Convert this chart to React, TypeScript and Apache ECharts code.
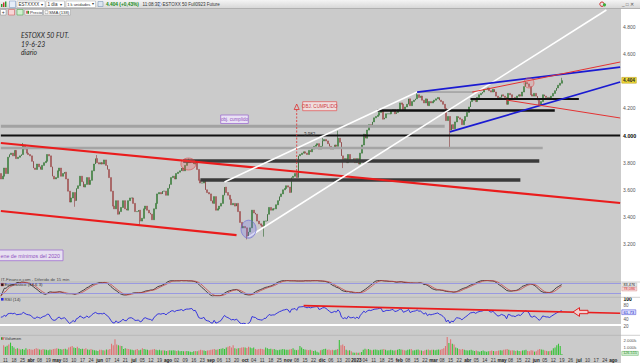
import React, { useEffect, useRef } from "react";
import * as echarts from "echarts";

// ---------------- DATA ----------------
const START_DATE = "2022-03-10";
const END_DATE = "2023-08-04";
const HOLIDAYS = ["2022-04-15", "2022-04-18", "2022-12-26", "2023-04-07", "2023-04-10", "2023-05-01"];
const MONTHS_ES = ["ene", "feb", "mar", "abr", "may", "jun", "jul", "ago", "sep", "oct", "nov", "dic"];
const TICK_START = 1;
const TICK_STEP = 5;

const FIRST_OPEN = 3720;
const closesMar22 = [3680, 3700, 3760, 3720, 3840, 3860, 3870, 3850, 3890, 3830, 3840, 3850, 3860, 3930, 3900, 3870];
const closesApr22 = [3860, 3850, 3810, 3760, 3750, 3790, 3770, 3750, 3780, 3800, 3810, 3860, 3850, 3770, 3700, 3680, 3690, 3740, 3760];
const closesMay22 = [3700, 3720, 3730, 3680, 3590, 3510, 3540, 3580, 3520, 3610, 3630, 3700, 3660, 3620, 3640, 3690, 3640, 3670, 3740, 3790, 3830, 3800];
const closesJun22 = [3790, 3800, 3790, 3820, 3780, 3750, 3690, 3590, 3480, 3460, 3520, 3420, 3440, 3470, 3520, 3460, 3450, 3520, 3540, 3540, 3500, 3440];
const closesJul22 = [3440, 3450, 3370, 3390, 3460, 3480, 3450, 3430, 3420, 3380, 3460, 3500, 3570, 3580, 3570, 3590, 3590, 3560, 3610, 3640, 3690];
const closesAug22 = [3700, 3680, 3720, 3730, 3740, 3760, 3740, 3780, 3800, 3800, 3810, 3820, 3790, 3800, 3750, 3670, 3650, 3650, 3670, 3600, 3580, 3570, 3520];
const closesSep22 = [3500, 3550, 3450, 3460, 3480, 3500, 3560, 3620, 3580, 3560, 3530, 3490, 3500, 3480, 3500, 3440, 3360, 3320, 3330, 3320, 3260, 3290];
const closesOct22 = [3320, 3450, 3430, 3420, 3370, 3350, 3340, 3330, 3370, 3370, 3420, 3470, 3450, 3460, 3460, 3490, 3520, 3550, 3570, 3600, 3610];
const closesNov22 = [3630, 3620, 3580, 3690, 3700, 3720, 3690, 3850, 3860, 3870, 3880, 3870, 3860, 3890, 3880, 3900, 3920, 3930, 3940, 3900, 3920, 3960];
const closesDec22 = [3970, 3960, 3940, 3920, 3900, 3910, 3930, 3920, 3980, 3950, 3850, 3810, 3830, 3800, 3860, 3820, 3820, 3830, 3800, 3830, 3790];
const closesJan23 = [3870, 3930, 4010, 3980, 4040, 4080, 4070, 4100, 4130, 4140, 4150, 4170, 4180, 4120, 4130, 4160, 4160, 4160, 4180, 4190, 4160, 4170];
const closesFeb23 = [4190, 4240, 4230, 4190, 4210, 4230, 4270, 4220, 4250, 4260, 4270, 4300, 4280, 4290, 4260, 4240, 4270, 4220, 4250, 4240];
const closesMar23 = [4250, 4260, 4270, 4280, 4260, 4250, 4230, 4200, 4110, 4140, 4040, 4080, 4050, 4100, 4140, 4130, 4120, 4080, 4110, 4140, 4170, 4210, 4250];
const closesApr23 = [4260, 4270, 4250, 4280, 4300, 4310, 4320, 4340, 4340, 4350, 4330, 4320, 4340, 4320, 4290, 4270, 4280, 4300];
const closesMay23 = [4290, 4280, 4230, 4310, 4300, 4280, 4280, 4270, 4290, 4300, 4290, 4320, 4360, 4390, 4380, 4360, 4300, 4290, 4310, 4290, 4260, 4220];
const closesJun23 = [4250, 4300, 4290, 4280, 4280, 4270, 4290, 4310, 4330, 4350, 4370, 4385, 4404];

const wickHighs: Record<number, number> = { 13: 3945, 56: 3856, 109: 3830, 187: 3982, 196: 4035, 242: 4320, 305: 4400, 326: 4425 };
const wickLows: Record<number, number> = { 43: 3475, 81: 3340, 143: 3235, 153: 3255, 199: 3760, 261: 3910 };

const volMar22 = [1300, 1100, 1250, 1400, 1650, 1200, 1000, 800, 900, 850, 750, 800, 700, 900, 750, 800];
const volApr22 = [750, 700, 800, 900, 850, 750, 700, 800, 750, 700, 650, 750, 700, 800, 850, 900, 850, 800, 750];
const volMay22 = [800, 850, 750, 1000, 1100, 1200, 1000, 950, 1100, 900, 800, 850, 800, 900, 750, 700, 800, 700, 650, 600, 550, 700];
const volJun22 = [700, 650, 600, 750, 700, 800, 1500, 1300, 2100, 1400, 1300, 1250, 1200, 800, 900, 850, 800, 750, 700, 650, 700, 800];
const volJul22 = [650, 700, 900, 800, 750, 700, 650, 700, 750, 800, 700, 650, 700, 600, 650, 600, 550, 600, 650, 600, 650];
const volAug22 = [600, 550, 600, 500, 550, 500, 500, 550, 500, 450, 400, 500, 550, 500, 600, 700, 650, 600, 550, 600, 650, 700, 750];
const volSep22 = [800, 700, 750, 800, 850, 900, 800, 1000, 1100, 1200, 1000, 1300, 900, 850, 900, 950, 1000, 1050, 1000, 950, 1100, 1000];
const volOct22 = [900, 1000, 800, 750, 800, 850, 800, 750, 1000, 900, 800, 850, 750, 800, 700, 650, 700, 750, 800, 750, 700];
const volNov22 = [700, 750, 800, 900, 700, 650, 700, 1200, 1000, 800, 750, 700, 650, 700, 600, 550, 600, 450, 350, 650, 700, 800];
const volDec22 = [850, 700, 750, 650, 700, 650, 700, 800, 2000, 1300, 1400, 1200, 700, 600, 650, 500, 350, 300, 350, 300, 350];
const volJan23 = [400, 700, 850, 750, 800, 700, 650, 700, 750, 700, 650, 700, 750, 800, 700, 600, 650, 700, 650, 600, 650, 700];
const volFeb23 = [800, 750, 700, 650, 600, 700, 750, 800, 600, 650, 700, 750, 650, 600, 550, 650, 700, 750, 650, 700];
const volMar23 = [700, 650, 700, 750, 700, 800, 900, 1200, 2400, 1600, 2100, 1500, 1400, 1000, 900, 800, 750, 800, 700, 650, 600, 650, 700];
const volApr23 = [600, 550, 600, 500, 450, 550, 600, 500, 450, 500, 550, 600, 550, 500, 550, 600, 650, 600];
const volMay23 = [700, 750, 800, 700, 600, 650, 600, 550, 600, 550, 500, 600, 650, 700, 550, 500, 650, 600, 450, 500, 700, 800];
const volJun23 = [750, 700, 600, 550, 500, 550, 600, 900, 1000, 1300, 1500, 1200, 127];

// trendlines [index, price]
const redChannelUpper = [[0, 3945], [360, 3503]];
const redChannelLower = [[0, 3444], [137, 3267]];
const whiteChannelUpper = [[130, 3658], [242, 4320]];
const whiteChannelLower = [[144, 3253], [352, 4924]];
const blueUpper = [[242, 4320], [360, 4504]];
const blueLower = [[261, 4026], [360, 4394]];
const redThinUpper = [[274, 4320], [360, 4541]];
const redThinLower = [[294, 4261], [360, 4129]];
const rsiTrend = [[176, 81], [360, 58.8]];
const RSI_WHITE_LEVEL = 25;
const STOCH_BANDS = [80, 20];

// horizontal levels [price, fromIndex, toIndex]
const levelGrayTop = [4068, 0, 258];
const level4000 = [4000, 0, 360];
const levelGrayMid = [3908, 0, 315];
const levelDark1 = [3812, 106, 313];
const levelDark2 = [3672, 116, 302];
const levelBlack1 = [4184, 219, 322];
const levelBlack2 = [4269, 273, 336];
const levelGrayThin = [4320, 242, 275];

// highlighted circles [index, price]
const circleAugTop = [109, 3790];
const circleSepLow = [144, 3310];
const circleMayTop = [307, 4387];

const LAST_PRICE_LABEL = "4.404";
const STOCH_K_LABEL = "83,476";
const STOCH_D_LABEL = "78,086";
const RSI_LABEL = "61,73";
const VOL_LABEL = "126.515";
const HIGH_LABEL = "3.982";

// ---------------- DERIVED ----------------
function buildDates(): string[] {
  const out: string[] = [];
  const hol = new Set(HOLIDAYS);
  const [sy, sm, sd] = START_DATE.split("-").map(Number);
  const [ey, em, ed] = END_DATE.split("-").map(Number);
  let t = Date.UTC(sy, sm - 1, sd);
  const end = Date.UTC(ey, em - 1, ed);
  while (t <= end) {
    const d = new Date(t);
    const wd = d.getUTCDay();
    const s = d.toISOString().slice(0, 10);
    if (wd !== 0 && wd !== 6 && !hol.has(s)) out.push(s);
    t += 86400000;
  }
  return out;
}

const dates = buildDates();
const closes = [
  ...closesMar22, ...closesApr22, ...closesMay22, ...closesJun22, ...closesJul22, ...closesAug22,
  ...closesSep22, ...closesOct22, ...closesNov22, ...closesDec22, ...closesJan23, ...closesFeb23,
  ...closesMar23, ...closesApr23, ...closesMay23, ...closesJun23,
];
const volumes = [
  ...volMar22, ...volApr22, ...volMay22, ...volJun22, ...volJul22, ...volAug22,
  ...volSep22, ...volOct22, ...volNov22, ...volDec22, ...volJan23, ...volFeb23,
  ...volMar23, ...volApr23, ...volMay23, ...volJun23,
];
const opens = closes.map((c, i) => (i === 0 ? FIRST_OPEN : closes[i - 1]));
const highs = closes.map((c, i) => Math.max(opens[i], c, wickHighs[i] ?? -Infinity));
const lows = closes.map((c, i) => Math.min(opens[i], c, wickLows[i] ?? Infinity));
const candleData = closes.map((c, i) => [opens[i], c, lows[i], highs[i]]);

// RSI (14, Wilder)
const RSI_N = 14;
const RSI_SEED = 30;
const rsiData = (() => {
  let ag = RSI_SEED, al = RSI_SEED;
  return closes.map((c, i) => {
    const ch = c - opens[i];
    ag = (ag * (RSI_N - 1) + Math.max(ch, 0)) / RSI_N;
    al = (al * (RSI_N - 1) + Math.max(-ch, 0)) / RSI_N;
    return +(100 - 100 / (1 + ag / al)).toFixed(2);
  });
})();

// Stochastic (slow, smoothed)
const STOCH_N = 14;
const STOCH_K_SMOOTH = 9;
const STOCH_D_SMOOTH = 4;
const sma = (arr: number[], n: number) =>
  arr.map((_, i) => {
    const s = Math.max(0, i - n + 1);
    let sum = 0;
    for (let k = s; k <= i; k++) sum += arr[k];
    return sum / (i - s + 1);
  });
const rawK = closes.map((c, i) => {
  const s = Math.max(0, i - STOCH_N + 1);
  let hh = -Infinity, ll = Infinity;
  for (let k = s; k <= i; k++) { hh = Math.max(hh, highs[k]); ll = Math.min(ll, lows[k]); }
  return hh === ll ? 50 : ((c - ll) / (hh - ll)) * 100;
});
const stochK = sma(rawK, STOCH_K_SMOOTH).map((v) => +v.toFixed(2));
const stochD = sma(stochK, STOCH_D_SMOOTH).map((v) => +v.toFixed(2));

const volumeData = volumes.map((v, i) => ({
  value: v,
  itemStyle: { color: closes[i] >= opens[i] ? "#36c236" : "#e07272" },
}));

const labelMap: Record<number, string> = {};
for (let t = TICK_START; t < dates.length; t += TICK_STEP) {
  const prev = dates[t - 1] ?? dates[t];
  const pm = +prev.slice(5, 7), py = +prev.slice(0, 4);
  let txt = dates[t].slice(8, 10);
  for (let k = t; k < Math.min(t + TICK_STEP, dates.length); k++) {
    const m = +dates[k].slice(5, 7), y = +dates[k].slice(0, 4);
    if (y !== py) { txt = `{b|${y}}`; break; }
    if (m !== pm) { txt = `{b|${MONTHS_ES[m - 1]}}`; break; }
  }
  labelMap[t] = txt;
}

// ---------------- CHART ----------------
const FONT = "'Liberation Sans', Arial, sans-serif";
const BG = "#cbcbcb";
const PLOT_W = 621;

function fmtThousands(v: number) {
  const th = Math.floor(v / 1000);
  const r = Math.round(v % 1000);
  return th > 0 ? `${th}.${String(r).padStart(3, "0")}` : String(r);
}

const txt = (x: number, y: number, text: string, o: any = {}) => ({
  type: "text", x, y, silent: true, z: 20,
  style: {
    text, fontSize: 5, fontFamily: FONT, fill: "#333",
    align: "left", verticalAlign: "middle", textAlign: "left", textVerticalAlign: "middle", ...o,
  },
});
const rect = (x: number, y: number, w: number, h: number, style: any, z = 15) => ({
  type: "rect", silent: true, z, shape: { x, y, width: w, height: h }, style,
});
const ln = (x1: number, y1: number, x2: number, y2: number, style: any, z = 15) => ({
  type: "line", silent: true, z, shape: { x1, y1, x2, y2 }, style,
});
const circ = (cx: number, cy: number, r: number, style: any, z = 15) => ({
  type: "circle", silent: true, z, shape: { cx, cy, r }, style,
});

function segSeries(name: string, data: number[][], color: string, width: number, z = 3, xi = 0) {
  return {
    name, type: "line", xAxisIndex: xi, yAxisIndex: xi, data, symbol: "none", silent: true,
    z, lineStyle: { color, width }, clip: false,
  };
}
function levelSeries(name: string, lv: number[], color: string, width: number) {
  return segSeries(name, [[lv[1], lv[0]], [lv[2], lv[0]]], color, width, 3);
}
function circleSeries(name: string, p: number[], size: any, fill: string, stroke: string) {
  return {
    name, type: "scatter", xAxisIndex: 0, yAxisIndex: 0, data: [p], symbol: "circle", symbolSize: size,
    silent: true, z: 5, itemStyle: { color: fill, borderColor: stroke, borderWidth: 0.8 },
  };
}

function buildOption() {
  const xAxisBase = {
    type: "category", data: dates, boundaryGap: true,
    axisLine: { show: false }, axisTick: { show: false }, splitLine: { show: false },
  };
  const graphic: any[] = [
    // toolbar
    rect(0, 0, 640, 8.5, { fill: { type: "linear", x: 0, y: 0, x2: 0, y2: 1, colorStops: [{ offset: 0, color: "#f4f4f4" }, { offset: 1, color: "#d6d6d6" }] } }, 1),
    ln(0, 8.5, 640, 8.5, { stroke: "#9a9a9a", lineWidth: 0.6 }, 2),
    rect(PLOT_W, 8.8, 640 - PLOT_W, 354.2, { fill: "#ffffff" }, -1),
    rect(1, 4, 1.4, 3, { fill: "#2a9a2a" }),
    rect(3, 2.5, 1.4, 4.5, { fill: "#d03030" }),
    rect(5, 1.5, 1.4, 5.5, { fill: "#2a9a2a" }),
    rect(9.5, 1, 6, 6.5, { fill: "#e6edf8", stroke: "#7090c0", lineWidth: 0.5 }),
    rect(17, 1, 28, 6.5, { fill: "#fff", stroke: "#a8a8a8", lineWidth: 0.5 }),
    txt(18.5, 4.4, "ESTXXXX", { fontSize: 4.5 }),
    txt(40.8, 4.4, "▾", { fontSize: 4 }),
    rect(46, 1, 18.5, 6.5, { fill: "#fff", stroke: "#a8a8a8", lineWidth: 0.5 }),
    txt(47.5, 4.4, "1 día", { fontSize: 4.5 }),
    txt(60.3, 4.4, "▾", { fontSize: 4 }),
    rect(66, 1, 29.5, 6.5, { fill: "#fff", stroke: "#a8a8a8", lineWidth: 0.5 }),
    txt(67.2, 4.4, "1 k unidades", { fontSize: 4.1 }),
    txt(92.2, 4.4, "▾", { fontSize: 3.8 }),
    rect(98, 1.5, 5, 5, { fill: "#dde6f0", stroke: "#6a8ab0", lineWidth: 0.5 }),
    txt(106, 4.4, "4.404 (+0,43%)", { fill: "#168a16", fontWeight: "bold", fontSize: 4.8 }),
    txt(142.5, 4.4, "11:08:33", { fontSize: 4.5 }),
    circ(159.5, 4.3, 1.8, { fill: "#fff", stroke: "#3a6ad0", lineWidth: 0.5 }),
    txt(162.5, 4.4, "ESTOXX 50 Full0923 Future", { fontSize: 4.5 }),
    circ(602, 4.2, 2.2, { fill: "none", stroke: "#d03030", lineWidth: 1 }),
    circ(604.5, 4.8, 1.6, { fill: "#3cb03c" }),
    txt(622, 4.2, "_ □ ✕", { fontSize: 4.6, fill: "#555" }),
    // second toolbar row
    rect(0.5, 9.5, 5.5, 5.5, { fill: "#fff", stroke: "#888", lineWidth: 0.5 }),
    txt(3.25, 12.3, "+", { fontSize: 5, align: "center", textAlign: "center" }),
    rect(8.5, 9.5, 6, 5.5, { fill: "#f7d6d6", stroke: "#d04848", lineWidth: 0.5 }),
    rect(17, 9.5, 6, 5.5, { fill: "#d0f0d0", stroke: "#3aa03a", lineWidth: 0.5 }),
    rect(25, 9.5, 17.5, 5.5, { fill: "#fff", stroke: "#999", lineWidth: 0.5 }),
    rect(26.3, 10.8, 1.4, 3, { fill: "#d03030" }),
    rect(27.7, 10.8, 1.4, 3, { fill: "#2a9a2a" }),
    txt(30, 12.3, "Precio", { fontSize: 4.3 }),
    rect(43.5, 9.5, 27, 5.5, { fill: "#fff", stroke: "#999", lineWidth: 0.5 }),
    rect(45, 10.7, 3, 3, { fill: "#fff", stroke: "#666", lineWidth: 0.4 }),
    txt(49, 12.3, "SMA (138)", { fontSize: 4.3 }),
    // title annotation
    txt(21, 34.5, "ESTOXX 50 FUT.", { fontSize: 6.8, fontStyle: "italic", fontFamily: "Lato, 'Open Sans', sans-serif", fill: "#2a2a2a" }),
    txt(21, 43.5, "19-6-23", { fontSize: 6.8, fontStyle: "italic", fontFamily: "Lato, 'Open Sans', sans-serif", fill: "#2a2a2a" }),
    txt(21, 52, "diario", { fontSize: 6.8, fontStyle: "italic", fontFamily: "Lato, 'Open Sans', sans-serif", fill: "#2a2a2a" }),
    // obj. cumplido
    rect(220.7, 115, 27.6, 8.5, { fill: "rgba(236,228,248,0.9)", stroke: "#a070d0", lineWidth: 0.8 }),
    txt(234.5, 119.3, "obj. cumplido", { fontSize: 4.6, fill: "#9050c0", align: "center", textAlign: "center" }),
    // OBJ. CUMPLIDO
    rect(302.7, 101.7, 34, 9, { fill: "rgba(246,226,226,0.85)", stroke: "#e06060", lineWidth: 0.8 }),
    txt(319.7, 106.3, "OBJ. CUMPLIDO", { fontSize: 4.6, fill: "#d04040", align: "center", textAlign: "center" }),
    ln(296.7, 109.5, 296.7, 176, { stroke: "#e03030", lineWidth: 0.8, lineDash: [2, 1.5] }),
    { type: "polygon", silent: true, z: 15, shape: { points: [[294.2, 109.5], [299.2, 109.5], [296.7, 104]] }, style: { fill: "none", stroke: "#e03030", lineWidth: 0.8 } },
    txt(304, 134, HIGH_LABEL, { fontSize: 4.5, fill: "#333" }),
    // mínimos del 2020
    rect(-1, 250, 64, 10.7, { fill: "rgba(236,228,248,0.85)", stroke: "#a070d0", lineWidth: 0.8 }),
    txt(0.5, 255.5, "ene de mínimos del 2020", { fontSize: 5.3, fill: "#9050c0" }),
    // panel legends and separators
    txt(1, 279.3, "IT-Finance.com - Diferido de 15 min", { fontSize: 4.3, fill: "#444" }),
    ln(0, 282, PLOT_W, 282, { stroke: "#b4b4b4", lineWidth: 0.8 }, 1),
    ln(0, 297.3, PLOT_W, 297.3, { stroke: "#b4b4b4", lineWidth: 0.8 }, 1),
    ln(0, 335.3, PLOT_W, 335.3, { stroke: "#b4b4b4", lineWidth: 0.8 }, 1),
    ln(PLOT_W, 282, 640, 282, { stroke: "#c4c4c4", lineWidth: 0.8 }),
    ln(PLOT_W, 297.3, 640, 297.3, { stroke: "#c4c4c4", lineWidth: 0.8 }),
    ln(PLOT_W, 335.3, 640, 335.3, { stroke: "#c4c4c4", lineWidth: 0.8 }),
    rect(1, 283.4, 2.6, 2.6, { fill: "#1a1a1a", stroke: "#d03030", lineWidth: 0.4 }),
    txt(4.5, 284.8, "Estocástico (14 6 3)", { fontSize: 4.3, fill: "#333" }),
    rect(1, 298, 2.6, 2.6, { fill: "#2a2ae0" }),
    txt(4.5, 299.4, "RSI (14)", { fontSize: 4.3, fill: "#333" }),
    rect(1, 337.2, 1.3, 2.6, { fill: "#2aa02a" }),
    rect(2.3, 337.2, 1.3, 2.6, { fill: "#d04040" }),
    txt(4.5, 338.6, "Volumen", { fontSize: 4.3, fill: "#333" }),
    // RSI arrow
    { type: "polygon", silent: true, z: 15, shape: { points: [[573, 312], [579.5, 307.6], [579.5, 310.3], [588, 310.3], [588, 313.7], [579.5, 313.7], [579.5, 316.4]] }, style: { fill: "#f2cfcf", stroke: "#e02020", lineWidth: 1 } },
    // right-side value tags
    rect(621.8, 77.4, 14.5, 5.8, { fill: "#f0dc3c", stroke: "#b09000", lineWidth: 0.5 }),
    txt(629, 80.4, LAST_PRICE_LABEL, { fontSize: 4.8, fill: "#222", fontWeight: "bold", align: "center", textAlign: "center" }),
    rect(621.8, 283.1, 15, 3.8, { fill: "#eeeeee", stroke: "#999", lineWidth: 0.4 }),
    txt(629.3, 285, STOCH_K_LABEL, { fontSize: 3.8, fill: "#222", align: "center", textAlign: "center" }),
    rect(621.8, 287.2, 15, 3.8, { fill: "#f6dada", stroke: "#d08080", lineWidth: 0.4 }),
    txt(629.3, 289.1, STOCH_D_LABEL, { fontSize: 3.8, fill: "#d03030", align: "center", textAlign: "center" }),
    rect(621.8, 309.8, 14, 4.8, { fill: "#dde0ff", stroke: "#4040d0", lineWidth: 0.5 }),
    txt(628.8, 312.2, RSI_LABEL, { fontSize: 4.3, fill: "#2020c0", align: "center", textAlign: "center" }),
    rect(621.8, 351.4, 16.5, 4, { fill: "#d4f0d4", stroke: "#40a040", lineWidth: 0.4 }),
    txt(630, 353.4, VOL_LABEL, { fontSize: 3.8, fill: "#1f8a1f", align: "center", textAlign: "center" }),
  ];

  return {
    animation: false,
    backgroundColor: BG,
    textStyle: { fontFamily: FONT },
    grid: [
      { left: 0, width: PLOT_W, top: 8, height: 290.46 },
      { left: 0, width: PLOT_W, top: 280.4, height: 15.8 },
      { left: 0, width: PLOT_W, top: 299, height: 34.75 },
      { left: 0, width: PLOT_W, top: 335.5, height: 19.5 },
    ],
    xAxis: [
      { ...xAxisBase, gridIndex: 0, axisLabel: { show: false } },
      { ...xAxisBase, gridIndex: 1, axisLabel: { show: false } },
      { ...xAxisBase, gridIndex: 2, axisLabel: { show: false } },
      {
        ...xAxisBase, gridIndex: 3,
        axisLabel: {
          show: true, fontSize: 4.6, color: "#333", margin: 2.5, fontFamily: FONT,
          interval: (i: number) => labelMap[i] !== undefined,
          formatter: (_v: string, i: number) => labelMap[i] ?? "",
          rich: { b: { fontWeight: "bold", fontSize: 4.6, color: "#222", fontFamily: FONT } },
        },
      },
    ],
    yAxis: [
      {
        type: "value", gridIndex: 0, position: "right", min: 2800, max: 4938.9, interval: 200, scale: true,
        axisLine: { show: false }, axisTick: { show: false }, splitLine: { show: false },
        axisLabel: {
          fontSize: 5, color: "#555", margin: 2, fontFamily: FONT,
          formatter: (v: number) => {
            if (v < 3200 || v > 4800 || v === 4400 || v % 200 !== 0) return "";
            return v === 4000 ? `{b|${fmtThousands(v)}}` : fmtThousands(v);
          },
          rich: { b: { fontWeight: "bold", color: "#000", fontSize: 5.3, fontFamily: FONT } },
        },
      },
      {
        type: "value", gridIndex: 1, position: "right", min: 0, max: 100,
        axisLine: { show: false }, axisTick: { show: false }, splitLine: { show: false }, axisLabel: { show: false },
      },
      {
        type: "value", gridIndex: 2, position: "right", min: 0, max: 100, interval: 20,
        axisLine: { show: false }, axisTick: { show: false }, splitLine: { show: false },
        axisLabel: {
          fontSize: 4.5, color: "#555", margin: 2.5, fontFamily: FONT,
          formatter: (v: number) => (v === 100 ? "{b|100}" : v === 0 || v === 60 ? "" : String(v)),
          rich: { b: { fontWeight: "bold", color: "#000", fontSize: 5, fontFamily: FONT } },
        },
      },
      {
        type: "value", gridIndex: 3, position: "right", min: 0, max: 2600, interval: 1000,
        axisLine: { show: false }, axisTick: { show: false }, splitLine: { show: false },
        axisLabel: {
          fontSize: 4.3, color: "#555", margin: 2.5, fontFamily: FONT,
          formatter: (v: number) => (v === 1000 || v === 2000 ? `${fmtThousands(v)}k` : ""),
        },
      },
    ],
    series: [
      {
        name: "Precio", type: "candlestick", xAxisIndex: 0, yAxisIndex: 0, data: candleData, z: 2,
        barWidth: "78%",
        itemStyle: { color: "#5ec35e", color0: "#e58a8a", borderColor: "#2f662f", borderColor0: "#8a3c3c", borderWidth: 0.6 },
      },
      levelSeries("lvGrayTop", levelGrayTop, "#a2a2a2", 3),
      levelSeries("lvGrayMid", levelGrayMid, "#a4a4a4", 2.6),
      levelSeries("lvDark1", levelDark1, "#3a3a3a", 3.6),
      levelSeries("lvDark2", levelDark2, "#3a3a3a", 3.6),
      levelSeries("lvGrayThin", levelGrayThin, "#8a8a8a", 1),
      levelSeries("lv4000", level4000, "#111111", 2),
      levelSeries("lvBlack1", levelBlack1, "#111111", 2.4),
      levelSeries("lvBlack2", levelBlack2, "#111111", 2),
      segSeries("redUp", redChannelUpper, "#ea1c1c", 2.2, 4),
      segSeries("redLow", redChannelLower, "#ea1c1c", 2.2, 4),
      segSeries("whiteUp", whiteChannelUpper, "#ffffff", 1.6, 4),
      segSeries("whiteLow", whiteChannelLower, "#ffffff", 1.6, 4),
      segSeries("blueUp", blueUpper, "#1a1ad2", 1.8, 4),
      segSeries("blueLow", blueLower, "#1a1ad2", 1.8, 4),
      segSeries("redThinUp", redThinUpper, "#e43232", 1, 4),
      segSeries("redThinLow", redThinLower, "#e43232", 1, 4),
      circleSeries("cAug", circleAugTop, [15, 12], "rgba(236,90,90,0.35)", "rgba(220,50,50,0.8)"),
      circleSeries("cSep", circleSepLow, [15, 18], "rgba(120,120,235,0.35)", "#6a6ad8"),
      circleSeries("cMay", circleMayTop, 10, "rgba(240,120,120,0.3)", "#e05050"),
      {
        name: "StochK", type: "line", xAxisIndex: 1, yAxisIndex: 1, data: stochK, symbol: "none", silent: true,
        lineStyle: { color: "#2a1a1a", width: 0.8 },
        markLine: {
          silent: true, symbol: "none", label: { show: false },
          lineStyle: { color: "#8c8ce6", width: 0.8, type: "solid" },
          data: STOCH_BANDS.map((b) => ({ yAxis: b })),
        },
      },
      {
        name: "StochD", type: "line", xAxisIndex: 1, yAxisIndex: 1, data: stochD, symbol: "none", silent: true,
        lineStyle: { color: "#c84848", width: 0.8 },
      },
      {
        name: "RSI", type: "line", xAxisIndex: 2, yAxisIndex: 2, data: rsiData, symbol: "none", silent: true,
        lineStyle: { color: "#2424e0", width: 0.9 },
        markLine: {
          silent: true, symbol: "none", label: { show: false },
          lineStyle: { color: "#ffffff", width: 2, type: "solid" },
          data: [{ yAxis: RSI_WHITE_LEVEL }],
        },
      },
      segSeries("rsiTrend", rsiTrend, "#ea1c1c", 1.6, 4, 2),
      {
        name: "Volumen", type: "bar", xAxisIndex: 3, yAxisIndex: 3, data: volumeData, barWidth: "62%", silent: true,
      },
    ],
    graphic: { elements: graphic },
  };
}

export default function App() {
  const ref = useRef<HTMLDivElement>(null);
  useEffect(() => {
    if (!ref.current) return;
    const chart = echarts.init(ref.current, undefined, { renderer: "svg" });
    chart.setOption(buildOption() as any);
    return () => chart.dispose();
  }, []);
  return (
    <div
      ref={ref}
      style={{ position: "fixed", left: 0, top: 0, width: 640, height: 363 }}
    />
  );
}
